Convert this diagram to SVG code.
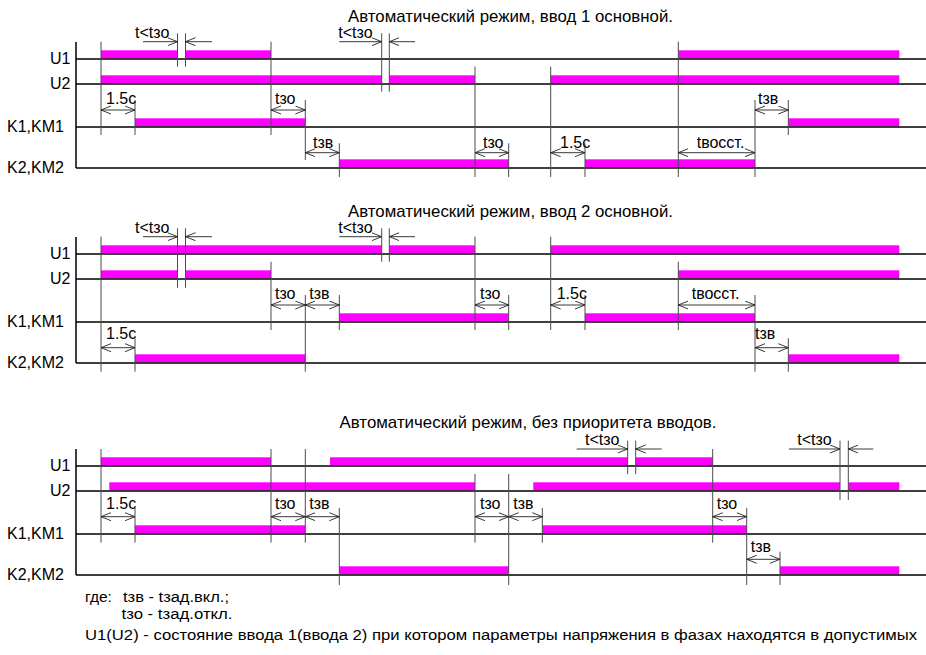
<svg xmlns="http://www.w3.org/2000/svg" width="926" height="655" viewBox="0 0 926 655">
<style>
text{font-family:"Liberation Sans",Arial,sans-serif;fill:#000}
.lbl{font-size:16px}
.ann{font-size:16px}
.ttl{font-size:17px}
.leg{font-size:15.5px}
.base{stroke:#000;stroke-width:1.5;fill:none}
.v{stroke:#4a4a4a;stroke-width:1;fill:none}
.bar{fill:#FF00FF}
.d{stroke:#222;stroke-width:0.9;fill:none;marker-end:url(#ah)}
.dd{stroke:#222;stroke-width:0.9;fill:none;marker-start:url(#ah);marker-end:url(#ah)}
</style>
<defs>
<marker id="ah" markerUnits="userSpaceOnUse" markerWidth="12" markerHeight="10" refX="10" refY="4.5" orient="auto-start-reverse" viewBox="0 0 12 10">
<path d="M0,0.5 L10,4.5 L0,8.5" fill="none" stroke="#222" stroke-width="0.9"/>
</marker>
<g id="frame">
<path class="base" d="M76 59H926M76 84H926M76 127H926M76 168H926M76 42V168"/>
<text class="lbl" x="50" y="64">U1</text>
<text class="lbl" x="50" y="89">U2</text>
<text class="lbl" x="7" y="132">K1,KM1</text>
<text class="lbl" x="7" y="173">K2,KM2</text>
</g>
</defs>
<rect width="926" height="655" fill="#fff"/>

<g id="section1">
<text class="ttl" x="348" y="21.5" textLength="325" lengthAdjust="spacingAndGlyphs">Автоматический режим, ввод 1 основной.</text>
<g id="s1-bars">
<rect class="bar" x="101" y="50.3" width="76.3" height="8"/>
<rect class="bar" x="185.7" y="50.3" width="85.3" height="8"/>
<rect class="bar" x="678.3" y="50.3" width="221" height="8"/>
<rect class="bar" x="101" y="75.3" width="280.7" height="8"/>
<rect class="bar" x="389.3" y="75.3" width="85.7" height="8"/>
<rect class="bar" x="550.7" y="75.3" width="348.6" height="8"/>
<rect class="bar" x="135" y="118.3" width="170.3" height="8"/>
<rect class="bar" x="788.3" y="118.3" width="111" height="8"/>
<rect class="bar" x="339.3" y="159.3" width="169.4" height="8"/>
<rect class="bar" x="585" y="159.3" width="170" height="8"/>
</g>
<use href="#frame"/>
<g id="s1-connectors">
<path class="v" d="M101 41.7V135M177.5 33.3V66.7M185.5 33.3V66.7M271 41.7V135M135 100V135M305.3 100V160M339.3 143.3V177M381.7 33.3V91.7M389.3 33.3V91.7M475 66.7V177M508.7 143.3V177M550.7 66.7V177M585 143.3V177M678.3 41.7V177M755 100V177M788.3 100V135"/>
<path class="d" d="M143 41.7H177.5"/>
<path class="d" d="M212 41.7H185.5"/>
<path class="d" d="M339.3 41.7H381.7"/>
<path class="d" d="M415 41.7H389.3"/>
<path class="dd" d="M101 110H135"/>
<path class="dd" d="M271 110H305.3"/>
<path class="dd" d="M755 110H788.3"/>
<path class="dd" d="M305.3 152.7H339.3"/>
<path class="dd" d="M475 152.7H508.7"/>
<path class="dd" d="M550.7 152.7H585"/>
<path class="dd" d="M678.3 152.7H755"/>
</g>
<g id="s1-labels">
<text class="ann" x="135" y="38">t&lt;tзо</text>
<text class="ann" x="338.3" y="38">t&lt;tзо</text>
<text class="ann" x="106" y="103.5">1.5с</text>
<text class="ann" x="275" y="103.5">tзо</text>
<text class="ann" x="758" y="103.5">tзв</text>
<text class="ann" x="313" y="148">tзв</text>
<text class="ann" x="483" y="148">tзо</text>
<text class="ann" x="560" y="148">1.5с</text>
<text class="ann" x="696.7" y="148">tвосст.</text>
</g>
</g>

<g id="section2" transform="translate(0,195)">
<text class="ttl" x="348" y="21.5" textLength="325" lengthAdjust="spacingAndGlyphs">Автоматический режим, ввод 2 основной.</text>
<g id="s2-bars">
<rect class="bar" x="101" y="50.3" width="280.7" height="8"/>
<rect class="bar" x="389.3" y="50.3" width="85.7" height="8"/>
<rect class="bar" x="550.7" y="50.3" width="348.6" height="8"/>
<rect class="bar" x="101" y="75.3" width="76.3" height="8"/>
<rect class="bar" x="185.7" y="75.3" width="85.3" height="8"/>
<rect class="bar" x="678.3" y="75.3" width="221" height="8"/>
<rect class="bar" x="339.3" y="118.3" width="169.4" height="8"/>
<rect class="bar" x="585" y="118.3" width="170" height="8"/>
<rect class="bar" x="135" y="159.3" width="170.3" height="8"/>
<rect class="bar" x="788.3" y="159.3" width="111" height="8"/>
</g>
<use href="#frame"/>
<g id="s2-connectors">
<path class="v" d="M101 41.7V176.7M177.5 33.3V92.7M185.5 33.3V92.7M271 66.7V135M305.3 100V176.7M339.3 100V135M381.7 33.3V66.7M389.3 33.3V66.7M475 41.7V135M508.7 100V135M550.7 41.7V135M585 100V135M678.3 66.7V135M755 100V176.7M788.3 143.3V176.7M135 143.3V176.7"/>
<path class="d" d="M143 41.7H177.5"/>
<path class="d" d="M212 41.7H185.5"/>
<path class="d" d="M339.3 41.7H381.7"/>
<path class="d" d="M415 41.7H389.3"/>
<path class="dd" d="M271 110H305.3"/>
<path class="dd" d="M305.3 110H339.3"/>
<path class="dd" d="M475 110H508.7"/>
<path class="dd" d="M550.7 110H585"/>
<path class="dd" d="M678.3 110H755"/>
<path class="dd" d="M101 152.7H135"/>
<path class="dd" d="M755 152.7H788.3"/>
</g>
<g id="s2-labels">
<text class="ann" x="135" y="38">t&lt;tзо</text>
<text class="ann" x="338.3" y="38">t&lt;tзо</text>
<text class="ann" x="275" y="103.5">tзо</text>
<text class="ann" x="309.3" y="103.5">tзв</text>
<text class="ann" x="480" y="103.5">tзо</text>
<text class="ann" x="556.7" y="103.5">1.5с</text>
<text class="ann" x="691.7" y="103.5">tвосст.</text>
<text class="ann" x="106" y="143.5">1.5с</text>
<text class="ann" x="755" y="143.5">tзв</text>
</g>
</g>

<g id="section3" transform="translate(0,407)">
<text class="ttl" x="339.5" y="20.5" textLength="377" lengthAdjust="spacingAndGlyphs">Автоматический режим, без приоритета вводов.</text>
<g id="s3-bars">
<rect class="bar" x="101" y="50.3" width="170" height="8"/>
<rect class="bar" x="330" y="50.3" width="297.7" height="8"/>
<rect class="bar" x="635.7" y="50.3" width="77" height="8"/>
<rect class="bar" x="109.3" y="75.3" width="365.7" height="8"/>
<rect class="bar" x="533.3" y="75.3" width="306.7" height="8"/>
<rect class="bar" x="848.3" y="75.3" width="51" height="8"/>
<rect class="bar" x="135" y="118.3" width="170.3" height="8"/>
<rect class="bar" x="542.3" y="118.3" width="204.4" height="8"/>
<rect class="bar" x="339.3" y="159.3" width="169.4" height="8"/>
<rect class="bar" x="780" y="159.3" width="119.3" height="8"/>
</g>
<use href="#frame"/>
<g id="s3-connectors">
<path class="v" d="M101 42V135.7M135 101V135.7M271 42V135.7M305.3 42V135.7M339.3 101V178M475 67V135.7M508.7 67V178M542.3 101V135.7M627.7 33.7V67M635.7 33.7V67M712.7 42V135.7M746.7 101V178M780 144.7V178M840 33.7V93M848.3 33.7V93"/>
<path class="d" d="M576.7 42H627.7"/>
<path class="d" d="M661.7 42H635.7"/>
<path class="d" d="M789 42H840"/>
<path class="d" d="M873.3 42H848.3"/>
<path class="dd" d="M101 109.7H135"/>
<path class="dd" d="M271 109.7H305.3"/>
<path class="dd" d="M305.3 109.7H339.3"/>
<path class="dd" d="M475 109.7H508.7"/>
<path class="dd" d="M508.7 109.7H542.3"/>
<path class="dd" d="M712.7 109.7H746.7"/>
<path class="dd" d="M746.7 152.3H780"/>
</g>
<g id="s3-labels">
<text class="ann" x="585" y="38">t&lt;tзо</text>
<text class="ann" x="797.3" y="38">t&lt;tзо</text>
<text class="ann" x="106" y="102">1.5с</text>
<text class="ann" x="275" y="102">tзо</text>
<text class="ann" x="309.3" y="102">tзв</text>
<text class="ann" x="480" y="102">tзо</text>
<text class="ann" x="513.3" y="102">tзв</text>
<text class="ann" x="716.7" y="102">tзо</text>
<text class="ann" x="750.7" y="144.7">tзв</text>
</g>
</g>

<g id="legend">
<text class="leg" x="85" y="602">где:</text>
<text class="leg" x="123" y="602" textLength="106" lengthAdjust="spacingAndGlyphs">tзв - tзад.вкл.;</text>
<text class="leg" x="121.5" y="619" textLength="111" lengthAdjust="spacingAndGlyphs">tзо - tзад.откл.</text>
<text class="leg" x="85" y="640" textLength="832" lengthAdjust="spacingAndGlyphs">U1(U2) - состояние ввода 1(ввода 2) при котором параметры напряжения в фазах находятся в допустимых</text>
</g>
</svg>
